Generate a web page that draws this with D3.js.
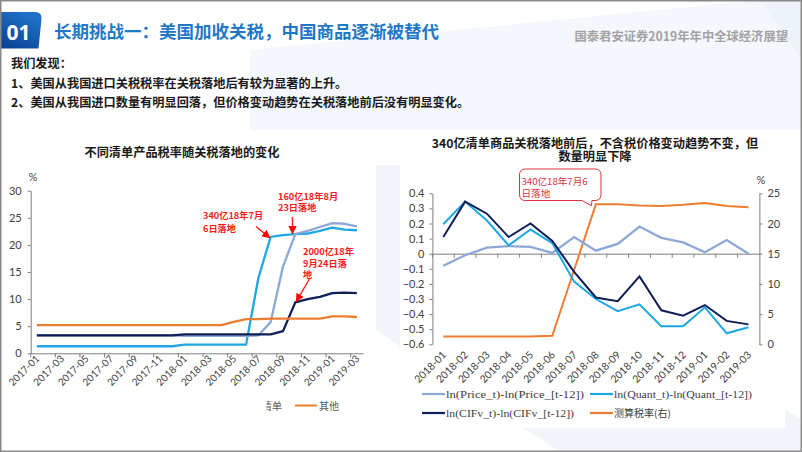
<!DOCTYPE html>
<html><head><meta charset="utf-8">
<script src="https://cdn.jsdelivr.net/npm/d3@7/dist/d3.min.js"></script>
<style>
html,body{margin:0;padding:0;background:#fff;}
svg{display:block;}
</style></head>
<body>
<svg id="c" width="802" height="452"></svg>
<script>
// ---------------- DATA ----------------
const months1 = ["2017-01","2017-02","2017-03","2017-04","2017-05","2017-06","2017-07","2017-08","2017-09","2017-10","2017-11","2017-12",
  "2018-01","2018-02","2018-03","2018-04","2018-05","2018-06","2018-07","2018-08","2018-09","2018-10","2018-11","2018-12",
  "2019-01","2019-02","2019-03"];
const list340  = [1.3,1.3,1.3,1.3,1.3,1.3,1.3,1.3,1.3,1.3,1.3,1.3, 1.6,1.6,1.6,1.6,1.6,1.6, 13.9,21.5,21.8,22.0,22.1,22.6,23.2,22.8,22.7];
const list160  = [3.3,3.3,3.3,3.3,3.3,3.3,3.3,3.3,3.3,3.3,3.3,3.3, 3.2,3.2,3.2,3.2,3.2,3.2,3.3, 5.8,16.0,22.0,22.6,23.3,24.0,23.9,23.4];
const list2000 = [3.3,3.3,3.3,3.3,3.3,3.3,3.3,3.3,3.3,3.3,3.3,3.3, 3.5,3.5,3.5,3.5,3.5,3.5,3.5,3.5, 4.1,9.4,10.0,10.4,11.1,11.2,11.1];
const listOther= [5.2,5.2,5.2,5.2,5.2,5.2,5.2,5.2,5.2,5.2,5.2,5.2, 5.2,5.2,5.2,5.2, 5.8,6.3,6.3,6.4,6.4,6.4,6.4,6.4,6.8,6.8,6.7];
const yTicks1 = [0,5,10,15,20,25,30];

const months2 = ["2018-01","2018-02","2018-03","2018-04","2018-05","2018-06","2018-07","2018-08","2018-09","2018-10","2018-11","2018-12","2019-01","2019-02","2019-03"];
const priceChg = [-0.08,-0.01,0.04,0.05,0.045,0.005,0.11,0.02,0.065,0.18,0.105,0.075,0.01,0.09,0.0];
const quantChg = [0.195,0.345,0.22,0.055,0.16,0.07,-0.185,-0.30,-0.38,-0.335,-0.48,-0.48,-0.355,-0.527,-0.487];
const cifvChg  = [0.11,0.345,0.265,0.11,0.20,0.085,-0.12,-0.29,-0.315,-0.15,-0.375,-0.41,-0.34,-0.445,-0.468];
const taxRate  = [1.3,1.3,1.3,1.3,1.3,1.4,12.3,23.2,23.2,23.0,22.9,23.1,23.4,22.9,22.7];
const yTicksL = [-0.6,-0.5,-0.4,-0.3,-0.2,-0.1,0,0.1,0.2,0.3,0.4];
const yTicksR = [0,5,10,15,20,25];

// ---------------- STYLE ----------------
const C340 = "#1DA7E4", C160 = "#8EA8D6", C2000 = "#0F1E57", COTH = "#ED7D31";
const CJK = "'Noto Sans CJK SC','Noto Sans',sans-serif";
const NUM = "Lato,'Noto Sans',sans-serif";

const svg = d3.select("#c");
const defs = svg.append("defs");

// background
svg.append("rect").attr("width",802).attr("height",452).attr("fill","#fff");
svg.append("path").attr("d","M250,50 L760,0 L802,0 L802,130 L250,130 Z").attr("fill","#F4F7FB");
svg.append("path").attr("d","M376,165 L410,165 L802,420 L802,452 L560,452 L376,330 Z").attr("fill","#F1F5FA");
svg.append("path").attr("d","M760,0 L802,0 L802,60 Z").attr("fill","#EEF3F9");
// chart panels
svg.append("rect").attr("x",5).attr("y",163).attr("width",371).attr("height",270).attr("fill","#fff");
svg.append("rect").attr("x",400).attr("y",165).attr("width",385).attr("height",263).attr("fill","#fff");

// header box "01"
const grad = defs.append("linearGradient").attr("id","g01").attr("x1","0").attr("y1","1").attr("x2","0.6").attr("y2","0");
grad.append("stop").attr("offset","0").attr("stop-color","#0A3E8E");
grad.append("stop").attr("offset","1").attr("stop-color","#1F72C8");
svg.append("path").attr("d","M0,12 L35,12 Q42,12 41.5,19 L38.5,48.5 L0,48.5 Z").attr("fill","url(#g01)");
svg.append("text").attr("x",18.5).attr("y",40).attr("text-anchor","middle").attr("fill","#fff")
  .attr("font-family","'Open Sans',Lato,sans-serif").attr("font-weight",700).attr("font-size",21).text("01");
svg.append("text").attr("x",54).attr("y",37.5).attr("fill","#1E78C8").attr("font-family",CJK).attr("font-weight",700)
  .attr("font-size",17.5).text("长期挑战一：美国加收关税，中国商品逐渐被替代");
svg.append("text").attr("x",788).attr("y",41).attr("text-anchor","end").attr("fill","#A3A3A3").attr("font-family",CJK)
  .attr("font-weight",700).attr("font-size",12.3).text("国泰君安证券2019年年中全球经济展望");

const bodyLines = ["我们发现：","1、美国从我国进口关税税率在关税落地后有较为显著的上升。","2、美国从我国进口数量有明显回落，但价格变动趋势在关税落地前后没有明显变化。"];
const bodyY = [67.5,88,107];
bodyLines.forEach((t,i)=>svg.append("text").attr("x",11).attr("y",bodyY[i]).attr("fill","#1a1a1a")
  .attr("font-family",CJK).attr("font-weight",700).attr("font-size",12.2).text(t));

// multi-line text helper: one <text>, several <tspan>
function multiText(g,x,y,lines,lh){
  const t = g.append("text").attr("x",x).attr("y",y);
  lines.forEach((s,i)=>t.append("tspan").attr("x",x).attr("dy",i===0?0:lh).text(s));
  return t;
}

// ================= LEFT CHART =================
const g1 = svg.append("g");
g1.append("text").attr("x",182).attr("y",156.5).attr("text-anchor","middle").attr("fill","#1a1a1a")
  .attr("font-family",CJK).attr("font-weight",700).attr("font-size",12.2).text("不同清单产品税率随关税落地的变化");

const x1 = d3.scaleBand().domain(months1).range([30.7,363]);
const y1 = d3.scaleLinear().domain([0,30]).range([353.3,190.7]);
const bw1 = x1.bandwidth();
const cx1 = m => x1(m)+bw1/2;

// y axis
const ay1 = g1.append("g").attr("transform","translate(30.7,0)")
  .call(d3.axisLeft(y1).tickValues(yTicks1).tickSize(3).tickSizeOuter(0).tickPadding(6));
ay1.selectAll("text").attr("font-family",NUM).attr("font-size",11).attr("fill","#404040");
ay1.selectAll("line,path").attr("stroke","#7f7f7f");
g1.append("text").attr("x",33).attr("y",181).attr("text-anchor","middle").attr("fill","#404040")
  .attr("font-family",NUM).attr("font-size",11).text("%");

// x axis: ticks at band edges every 2 months
const xTickVals1 = months1.filter((m,i)=>i%2===0);
const ax1 = g1.append("g").attr("transform","translate(0,353.3)")
  .call(d3.axisBottom(x1).tickValues(xTickVals1).tickSize(4).tickSizeOuter(0));
ax1.selectAll(".tick").attr("transform",d=>`translate(${x1(d)},0)`);
ax1.selectAll("line,path").attr("stroke","#7f7f7f");
ax1.selectAll("text").attr("font-family",NUM).attr("font-size",10).attr("fill","#404040")
  .attr("text-anchor","end").attr("y",0).attr("dy","0.35em")
  .attr("transform","translate(7,3.5) rotate(-45)");

const line1 = d3.line().x((d,i)=>cx1(months1[i])).y(d=>y1(d));
[[list340,C340],[list160,C160],[list2000,C2000],[listOther,COTH]].forEach(([arr,col])=>{
  g1.append("path").datum(arr).attr("d",line1).attr("fill","none").attr("stroke",col)
    .attr("stroke-width",2.3).attr("stroke-linejoin","round");
});

// legend (partially clipped as in the reference)
const clip = defs.append("clipPath").attr("id","legclip");
clip.append("rect").attr("x",266.5).attr("y",390).attr("width",100).attr("height",30);
g1.append("text").attr("clip-path","url(#legclip)").attr("x",262).attr("y",409.5).attr("fill","#595959")
  .attr("font-family",CJK).attr("font-size",10).text("清单");
g1.append("line").attr("x1",295).attr("x2",317).attr("y1",405.5).attr("y2",405.5).attr("stroke",COTH).attr("stroke-width",2);
g1.append("text").attr("x",319).attr("y",409.5).attr("fill","#595959").attr("font-family",CJK).attr("font-size",10).text("其他");

// annotations
defs.append("marker").attr("id","arr").attr("viewBox","0 0 10 10").attr("refX",9).attr("refY",5)
  .attr("markerWidth",6).attr("markerHeight",6).attr("orient","auto")
  .append("path").attr("d","M0,0 L10,5 L0,10 Z").attr("fill","#FF0000");
const red = "#FF1A1A";
function annText(x,y,lines,lh){
  multiText(g1,x,y,lines,lh).attr("fill",red).attr("font-family",CJK).attr("font-weight",700).attr("font-size",9.2);
}
annText(203,219,["340亿18年7月","6日落地"],12.5);
annText(278,199.5,["160亿18年8月","23日落地"],11);
annText(303,255,["2000亿18年","9月24日落","地"],11.5);
function arrow(xa,ya,xb,yb){
  g1.append("line").attr("x1",xa).attr("y1",ya).attr("x2",xb).attr("y2",yb)
    .attr("stroke",red).attr("stroke-width",1.4).attr("marker-end","url(#arr)");
}
arrow(256,226.5, cx1("2018-08")-1, y1(list340[19])+1);
arrow(292.5,217, 292.5, y1(list160[21])-0.5);
arrow(310,278, cx1("2018-10")+1, y1(list2000[21])-1);

// ================= RIGHT CHART =================
const g2 = svg.append("g");
multiText(g2,595,147.5,["340亿清单商品关税落地前后，不含税价格变动趋势不变，但","数量明显下降"],13)
  .attr("text-anchor","middle").attr("fill","#1a1a1a")
  .attr("font-family",CJK).attr("font-weight",700).attr("font-size",12.2);

const x2 = d3.scaleBand().domain(months2).range([432.4,759.4]);
const bw2 = x2.bandwidth();
const cx2 = m => x2(m)+bw2/2;
const yL = d3.scaleLinear().domain([-0.6,0.4]).range([344.3,193.3]);
const yR = d3.scaleLinear().domain([0,25]).range([344.3,193.3]);

const ayL = g2.append("g").attr("transform","translate(432.4,0)")
  .call(d3.axisLeft(yL).tickValues(yTicksL).tickSize(3).tickSizeOuter(0).tickPadding(5)
    .tickFormat(d=>d===0?"0":d3.format(".1f")(d)));
const ayR = g2.append("g").attr("transform","translate(759.4,0)")
  .call(d3.axisRight(yR).tickValues(yTicksR).tickSize(3).tickSizeOuter(0).tickPadding(5));
[ayL,ayR].forEach(a=>{
  a.selectAll("text").attr("font-family",NUM).attr("font-size",11).attr("fill","#404040");
  a.selectAll("line,path").attr("stroke","#7f7f7f");
});
g2.append("text").attr("x",761).attr("y",184).attr("text-anchor","middle").attr("fill","#404040")
  .attr("font-family",NUM).attr("font-size",11).text("%");

// zero axis with ticks at band edges
const ax2 = g2.append("g").attr("transform",`translate(0,${yL(0)})`)
  .call(d3.axisBottom(x2).tickSize(4).tickSizeOuter(0).tickFormat(""));
ax2.selectAll(".tick").attr("transform",d=>`translate(${x2(d)},0)`);
ax2.selectAll("line,path").attr("stroke","#7f7f7f");
// bottom labels
g2.selectAll(".xl").data(months2).enter().append("text")
  .attr("font-family",NUM).attr("font-size",10.3).attr("fill","#404040").attr("text-anchor","end")
  .attr("transform",d=>`translate(${cx2(d)+1},${353}) rotate(-45)`).attr("dy","0.35em").text(d=>d);

const line2 = yScale => d3.line().x((d,i)=>cx2(months2[i])).y(d=>yScale(d));
g2.append("path").datum(taxRate).attr("d",line2(yR)).attr("fill","none").attr("stroke",COTH).attr("stroke-width",2);
g2.append("path").datum(priceChg).attr("d",line2(yL)).attr("fill","none").attr("stroke",C160).attr("stroke-width",2.3);
g2.append("path").datum(quantChg).attr("d",line2(yL)).attr("fill","none").attr("stroke",C340).attr("stroke-width",2);
g2.append("path").datum(cifvChg).attr("d",line2(yL)).attr("fill","none").attr("stroke",C2000).attr("stroke-width",2);

// callout
const tipX = cx2("2018-08")-4.5, tipY = yR(taxRate[7])+1.5;
const bx0=519.5, bx1=601, by0=169, by1=200.5, r=6;
g2.append("path").attr("d",
  `M${bx0+r},${by0} L${bx1-r},${by0} Q${bx1},${by0} ${bx1},${by0+r} L${bx1},${by1-r} Q${bx1},${by1} ${bx1-r},${by1}
   L${bx1-9},${by1} L${tipX},${tipY} L${bx1-19},${by1} L${bx0+r},${by1} Q${bx0},${by1} ${bx0},${by1-r}
   L${bx0},${by0+r} Q${bx0},${by0} ${bx0+r},${by0} Z`)
  .attr("fill","#fff").attr("stroke","#D9343F").attr("stroke-width",1);
multiText(g2,521.5,185,["340亿18年7月6","日落地"],12)
  .attr("fill","#D9343F").attr("font-family",CJK).attr("font-size",9.6);

// legend
const legItems = [
  {t:"ln(Price_t)-ln(Price_[t-12])", c:C160, x:422, y:394, w:138},
  {t:"ln(Quant_t)-ln(Quant_[t-12])", c:C340, x:590, y:394, w:138},
  {t:"ln(CIFv_t)-ln(CIFv_[t-12])", c:C2000, x:422, y:413, w:128},
  {t:"测算税率(右)", c:COTH, x:590, y:413, w:0}
];
legItems.forEach(it=>{
  g2.append("line").attr("x1",it.x).attr("x2",it.x+23).attr("y1",it.y).attr("y2",it.y).attr("stroke",it.c).attr("stroke-width",2.2);
  const t = g2.append("text").attr("x",it.x+24).attr("y",it.y+3.5).attr("fill","#404040")
    .attr("font-family", it.w? "'Liberation Serif',serif" : CJK).attr("font-size",10).text(it.t);
  if(it.w) t.attr("textLength",it.w).attr("lengthAdjust","spacingAndGlyphs");
});

// slide border
svg.append("rect").attr("x",0.75).attr("y",0.75).attr("width",800.5).attr("height",450.5)
  .attr("fill","none").attr("stroke","#8a8a8a").attr("stroke-width",1.5);
</script>
</body></html>
